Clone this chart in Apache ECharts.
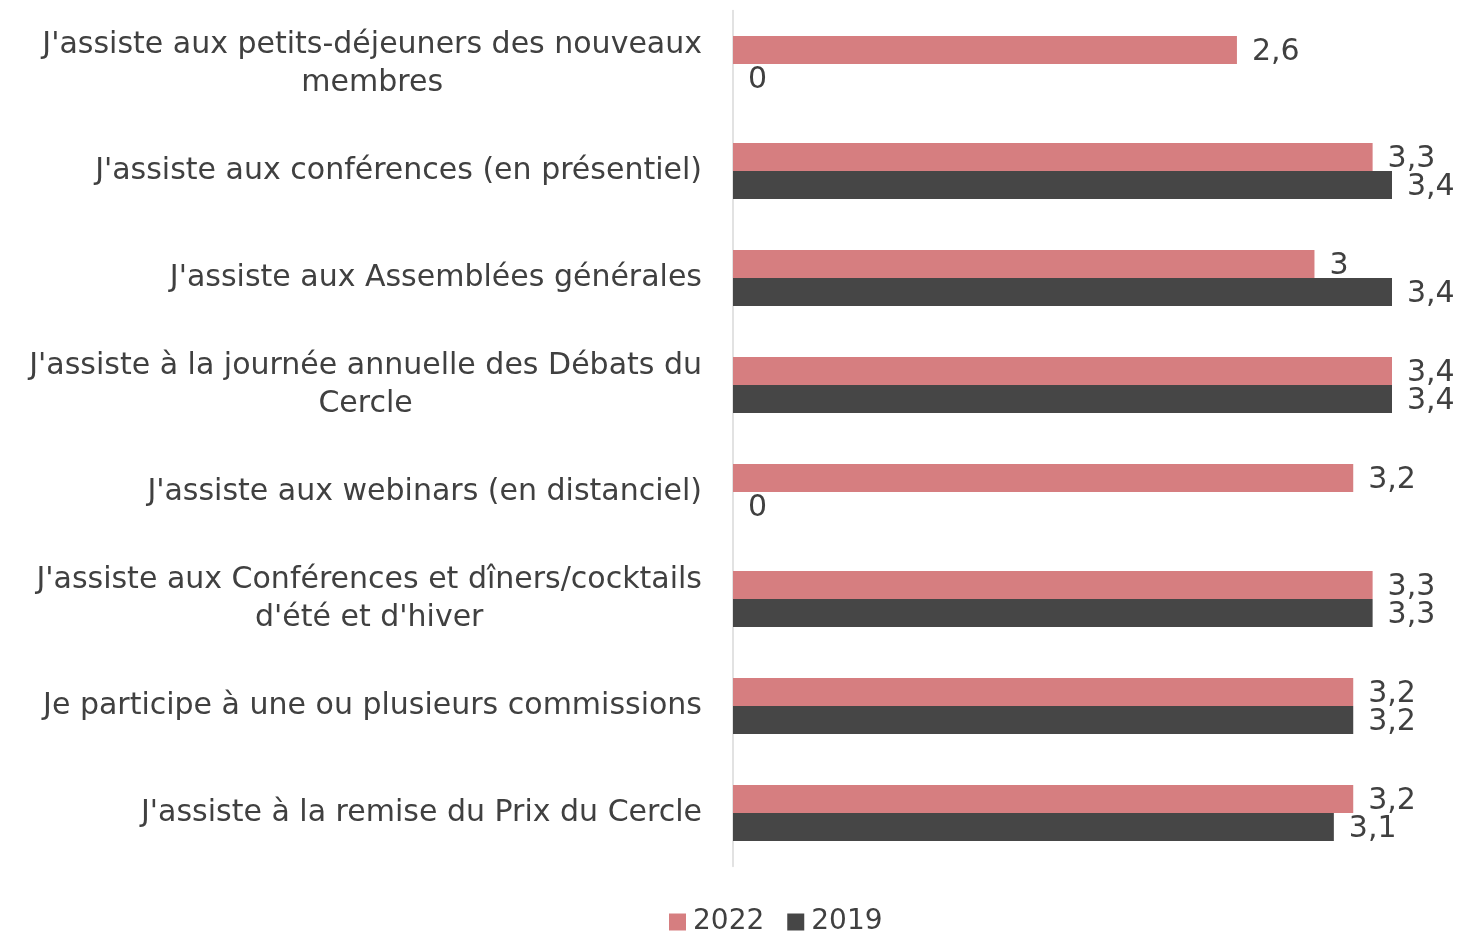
<!DOCTYPE html>
<html>
<head>
<meta charset="utf-8">
<script src="https://cdn.jsdelivr.net/npm/echarts@6/dist/echarts.min.js"></script>
<style>
  html, body { margin: 0; padding: 0; background: #fff; }
  #main { width: 1458px; height: 934px; }
</style>
</head>
<body>
<div id="main"></div>
<script>
// categories, top to bottom
var categories = [
    "J'assiste aux petits-déjeuners des nouveaux\nmembres",
    "J'assiste aux conférences (en présentiel)",
    "J'assiste aux Assemblées générales",
    "J'assiste à la journée annuelle des Débats du\nCercle",
    "J'assiste aux webinars (en distanciel)",
    "J'assiste aux Conférences et dîners/cocktails\nd'été et d'hiver",
    "Je participe à une ou plusieurs commissions",
    "J'assiste à la remise du Prix du Cercle"
];
var values2022 = [2.6, 3.3, 3, 3.4, 3.2, 3.3, 3.2, 3.2];
var values2019 = [0, 3.4, 3.4, 3.4, 0, 3.3, 3.2, 3.1];

var textColor = '#404040';
var fontFam = 'DejaVu Sans';
var fs = 30;

var myChart = echarts.init(document.getElementById('main'));

function labelFmt(p) {
    return String(p.value).replace('.', ',');
}

myChart.setOption({
    animation: false,
    grid: { left: 733, right: 66, top: 10.5, bottom: 67.5 },
    legend: {
        data: ['2022', '2019'],
        left: 664,
        top: 903,
        itemWidth: 17,
        itemHeight: 17,
        itemGap: 23,
        icon: 'rect',
        textStyle: { color: textColor, fontSize: 28, fontFamily: fontFam, padding: [0, 0, 0, 2] }
    },
    xAxis: {
        type: 'value',
        min: 0,
        max: 3.4,
        show: false
    },
    yAxis: {
        type: 'category',
        inverse: true,
        data: categories,
        axisLine: { show: true, lineStyle: { color: '#d9d9d9', width: 1.5 } },
        axisTick: { show: false },
        axisLabel: {
            margin: 31,
            color: textColor,
            fontSize: fs,
            fontFamily: fontFam,
            lineHeight: 38,
            formatter: function (v) {
                return v.split('\n').map(function (l) { return '{c|' + l + '}'; }).join('\n');
            },
            rich: {
                c: { align: 'center', color: textColor, fontSize: fs, fontFamily: fontFam, lineHeight: 38 }
            }
        }
    },
    series: [
        {
            name: '2022',
            type: 'bar',
            data: values2022,
            barWidth: 28,
            barGap: '0%',
            itemStyle: { color: '#d67e80' },
            label: { show: true, position: 'right', distance: 15, offset: [0, 2], color: textColor, fontSize: fs, fontFamily: fontFam, formatter: labelFmt }
        },
        {
            name: '2019',
            type: 'bar',
            data: values2019,
            barWidth: 28,
            barGap: '0%',
            itemStyle: { color: '#464646' },
            label: { show: true, position: 'right', distance: 15, offset: [0, 2], color: textColor, fontSize: fs, fontFamily: fontFam, formatter: labelFmt }
        }
    ]
});
</script>
</body>
</html>
